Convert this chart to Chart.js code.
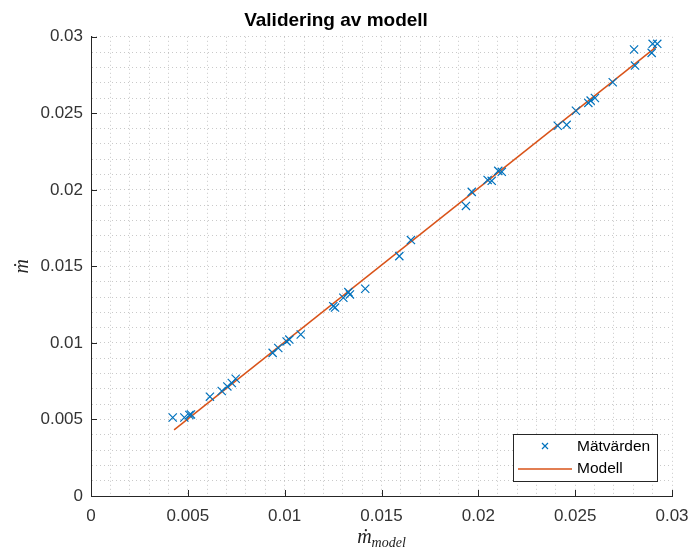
<!DOCTYPE html>
<html lang="en">
<head>
    <meta charset="UTF-8">
    <title>Validering av modell</title>
    <style>
        html, body { margin: 0; padding: 0; background: #fff; }
        #wrap { width: 692px; height: 551px; }
    </style>
</head>
<body>
    <div id="wrap"><canvas id="myCanvas"></canvas></div>
    <script src="https://cdn.jsdelivr.net/npm/chart.js@4/dist/chart.umd.min.js"></script>
    <script>
        // measured points (x = model, y = measured)
        const measX = [0.00422, 0.00482, 0.00508, 0.00516, 0.00614, 0.00675, 0.00704, 0.00727, 0.00747, 0.00938,
                       0.00967, 0.0101, 0.01024, 0.01083, 0.01251, 0.0126, 0.01303, 0.01329, 0.01337, 0.01416,
                       0.01592, 0.01652, 0.01936, 0.01966, 0.02048, 0.02069, 0.02103, 0.02121, 0.0241, 0.02456,
                       0.02504, 0.02568, 0.0258, 0.02602, 0.02694, 0.02804, 0.02809, 0.02895, 0.029, 0.02924];
        const measY = [0.00513, 0.00513, 0.00529, 0.00533, 0.00649, 0.00686, 0.00716, 0.00738, 0.00766, 0.00935,
                       0.00967, 0.0101, 0.01022, 0.01055, 0.0124, 0.01231, 0.01295, 0.01332, 0.01317, 0.01354,
                       0.01567, 0.01672, 0.01895, 0.01987, 0.02065, 0.02059, 0.02124, 0.02118, 0.02419, 0.02425,
                       0.02517, 0.02568, 0.02583, 0.026, 0.02703, 0.02917, 0.02812, 0.02895, 0.02954, 0.02954];
        // model line end points
        const modelX = [0.00429, 0.02917];
        const modelY = [0.00432, 0.02932];
        const tickLabels = ['0', '0.005', '0.01', '0.015', '0.02', '0.025', '0.03'];
        const seriesNames = ['Mätvärden', 'Modell'];

        const blue = '#0072BD';
        const orange = '#D95319';
        const axisCol = '#262626';

        function tickCb(v) {
            const i = Math.round(v * 1000);
            return i % 5 === 0 ? tickLabels[i / 5] : '';
        }

        // inward ticks, axis titles and legend box
        const extras = {
            id: 'extras',
            afterDraw(chart) {
                const ctx = chart.ctx;
                const xs = chart.scales.x, ys = chart.scales.y;
                const a = chart.chartArea;
                ctx.save();
                ctx.strokeStyle = axisCol;
                ctx.lineWidth = 1;
                ctx.beginPath();
                for (let i = 0; i < tickLabels.length; i++) {
                    const v = i * 0.005;
                    const px = Math.round(xs.getPixelForValue(v)) + 0.5;
                    ctx.moveTo(px, a.bottom); ctx.lineTo(px, a.bottom - 6);
                    const py = Math.round(ys.getPixelForValue(v)) + 0.5;
                    ctx.moveTo(a.left, py); ctx.lineTo(a.left + 6, py);
                }
                ctx.stroke();

                // axis titles
                ctx.fillStyle = '#222';
                ctx.textBaseline = 'alphabetic';
                ctx.font = 'italic 20px "Liberation Serif"';
                const mx = 'ṁ';
                const sub = 'model';
                const w1 = ctx.measureText(mx).width;
                ctx.font = 'italic 14px "Liberation Serif"';
                const w2 = ctx.measureText(sub).width;
                const cx = (a.left + a.right) / 2;
                let sx = cx - (w1 + w2) / 2;
                ctx.font = 'italic 20px "Liberation Serif"';
                ctx.textAlign = 'left';
                ctx.fillText(mx, sx, 543);
                ctx.font = 'italic 14px "Liberation Serif"';
                ctx.fillText(sub, sx + w1, 547);

                ctx.save();
                ctx.translate(28, (a.top + a.bottom) / 2);
                ctx.rotate(-Math.PI / 2);
                ctx.font = 'italic 20px "Liberation Serif"';
                ctx.textAlign = 'center';
                ctx.fillText(mx, 0, 0);
                ctx.restore();

                // legend
                const lx = 513, ly = 434, lw = 144, lh = 47;
                ctx.fillStyle = '#fff';
                ctx.fillRect(lx, ly, lw, lh);
                ctx.strokeStyle = axisCol;
                ctx.strokeRect(lx + 0.5, ly + 0.5, lw, lh);
                ctx.strokeStyle = blue;
                ctx.lineWidth = 1.2;
                ctx.beginPath();
                ctx.moveTo(542, 443); ctx.lineTo(548, 449);
                ctx.moveTo(548, 443); ctx.lineTo(542, 449);
                ctx.stroke();
                ctx.strokeStyle = orange;
                ctx.lineWidth = 1.5;
                ctx.beginPath();
                ctx.moveTo(518, 469); ctx.lineTo(572, 469);
                ctx.stroke();
                ctx.fillStyle = '#000';
                ctx.font = '15.5px "Liberation Sans"';
                ctx.textAlign = 'left';
                ctx.textBaseline = 'middle';
                ctx.fillText(seriesNames[0], 577, 447);
                ctx.fillText(seriesNames[1], 577, 469);
                ctx.restore();
            }
        };

        const gridOpts = {
            color: 'rgba(38,38,38,0.25)',
            lineWidth: 1,
            drawTicks: false
        };

        const ctx = document.getElementById('myCanvas').getContext('2d');
        const myChart = new Chart(ctx, {
            type: 'scatter',
            data: {
                datasets: [{
                    label: seriesNames[0],
                    data: measX.map((x, i) => ({ x: x, y: measY[i] })),
                    pointStyle: 'crossRot',
                    pointRadius: 5.8,
                    borderColor: blue,
                    backgroundColor: blue,
                    borderWidth: 1.2,
                    showLine: false
                }, {
                    label: seriesNames[1],
                    data: modelX.map((x, i) => ({ x: x, y: modelY[i] })),
                    showLine: true,
                    pointRadius: 0,
                    borderColor: orange,
                    backgroundColor: orange,
                    borderWidth: 1.5
                }]
            },
            options: {
                responsive: true,
                maintainAspectRatio: false,
                animation: false,
                layout: { padding: { left: 0, right: 20, top: 0, bottom: 0 } },
                plugins: {
                    legend: { display: false },
                    tooltip: { enabled: false },
                    title: {
                        display: true,
                        text: 'Validering av modell',
                        color: '#000',
                        font: { family: '"Liberation Sans"', size: 19, weight: 'bold' },
                        padding: { top: 9, bottom: 5 }
                    }
                },
                scales: {
                    x: {
                        type: 'linear',
                        min: 0, max: 0.03,
                        afterFit: s => { s.height = 55; s.paddingLeft = 0; s.paddingRight = 0; },
                        grid: gridOpts,
                        border: { display: true, color: axisCol, width: 1, dash: [1, 3] },
                        ticks: {
                            stepSize: 0.001, autoSkip: false, maxRotation: 0,
                            padding: 10, color: '#333',
                            font: { family: '"Liberation Sans"', size: 17 },
                            callback: tickCb
                        }
                    },
                    y: {
                        type: 'linear',
                        min: 0, max: 0.03,
                        afterFit: s => { s.width = 91; s.paddingTop = 0; s.paddingBottom = 0; },
                        grid: gridOpts,
                        border: { display: true, color: axisCol, width: 1, dash: [1, 3] },
                        ticks: {
                            stepSize: 0.001, autoSkip: false,
                            padding: 8, color: '#333',
                            font: { family: '"Liberation Sans"', size: 17 },
                            callback: tickCb
                        }
                    }
                }
            },
            plugins: [extras]
        });
    </script>
</body>
</html>
